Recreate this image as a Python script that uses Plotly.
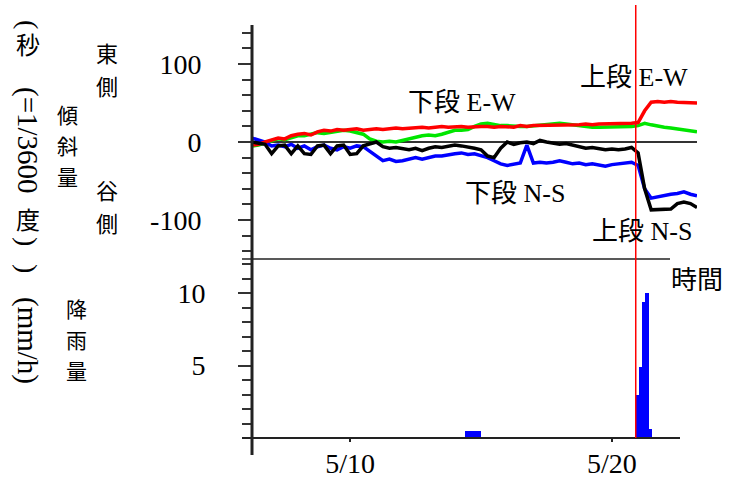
import plotly.graph_objects as go
import pandas as pd

# ---- data ----
times = pd.date_range("2009-05-06 06:00", periods=69, freq="6h")

upper_ew = [-4, -3, 0, 3, 5, 4, 8, 10, 11, 9, 13, 15, 14, 16, 15, 16, 17, 15, 16, 17,
            16, 17, 18, 17, 18, 18, 19, 18, 19, 20, 19, 20, 20, 19, 20, 20, 20, 19, 20, 20,
            19, 21, 20, 21, 21, 21, 22, 21, 22, 22, 22, 23, 22, 23, 23, 23, 24, 23, 24, 25,
            40, 51, 52, 51, 52, 51, 51, 50, 50]
lower_ew = [-5, -4, -1, 2, 4, 3, 6, 8, 8, 10, 12, 11, 12, 14, 15, 14, 12, 10, 4, 1,
            0, 1, 0, 2, 4, 7, 8, 9, 8, 10, 13, 15, 15, 16, 20, 23, 24, 22, 21, 21,
            20, 20, 20, 21, 22, 23, 24, 24, 23, 22, 20, 20, 19, 19, 19, 20, 20, 19, 20, 21,
            24, 22, 20, 19, 18, 17, 16, 15, 13]
lower_ns = [5, 3, 0, -5, -4, -6, -3, -8, -5, -10, -6, -4, -8, -10, -6, -8, -5, -6, -12, -18,
            -24, -22, -25, -24, -22, -20, -22, -20, -18, -18, -16, -15, -14, -16, -15, -17, -20, -24, -28, -30,
            -29, -27, -4, -27, -26, -27, -26, -24, -26, -28, -27, -29, -28, -30, -31, -29, -28, -27, -26, -30,
            -60, -72, -70, -68, -67, -66, -64, -67, -69]
upper_ns = [0, -2, -3, -15, -5, -4, -15, -5, -15, -16, -5, -4, -15, -5, -4, -16, -15, -5, -3, 0,
            -6, -8, -7, -9, -10, -8, -11, -8, -6, -7, -5, -4, -5, -6, -8, -10, -18, -20, -8, 0,
            -3, -1, 0, -2, 2, 0, -1, -3, -2, -4, -6, -8, -7, -8, -10, -9, -10, -9, -7, -14,
            -60, -87, -87, -86, -86, -79, -77, -79, -84]

rain_times = ["2009-05-14 10:30", "2009-05-14 13:30", "2009-05-14 16:30", "2009-05-14 19:30",
              "2009-05-14 22:30", "2009-05-20 23:15", "2009-05-21 02:15", "2009-05-21 05:15",
              "2009-05-21 08:15", "2009-05-21 11:15"]
rain_vals = [0.5, 0.5, 0.5, 0.5, 0.5, 3.0, 4.9, 9.4, 10.0, 0.6]

x_tick_vals = ["2009-05-10", "2009-05-20"]
x_tick_text = ["5/10", "5/20"]
tilt_tick_vals = [-100, 0, 100]
tilt_tick_text = ["-100", "0", "100"]
rain_tick_vals = [5, 10]
rain_tick_text = ["5", "10"]
event_time = "2009-05-20 21:50"

# ---- figure ----
L, R, T, B = 252, 33, 25, 44
W, H = 730, 482
PW, PH = W - L - R, H - T - B


def P(px, py):
    return (px - L) / PW, (H - B - py) / PH


split = P(0, 259)[1]
serif = "Liberation Serif"
cjk = "Noto Sans CJK JP"
mixed = "Liberation Serif, Noto Sans CJK JP"

fig = go.Figure()
for vals, col in [(lower_ew, "#00e600"), (lower_ns, "#0000ff"), (upper_ew, "#ff0000"), (upper_ns, "#000000")]:
    fig.add_trace(go.Scatter(x=times, y=vals, mode="lines", line=dict(color=col, width=3.5),
                             xaxis="x", yaxis="y", hoverinfo="skip"))

fig.add_trace(go.Bar(x=rain_times, y=rain_vals, width=3 * 3600 * 1000, marker=dict(color="#0000ff", line=dict(width=0)),
                     xaxis="x", yaxis="y2", hoverinfo="skip"))

tickfont = dict(family=serif, size=28, color="black")
fig.update_layout(
    width=W, height=H, margin=dict(l=L, r=R, t=T, b=B, autoexpand=False),
    paper_bgcolor="white", plot_bgcolor="white", showlegend=False, bargap=0,
    xaxis=dict(range=["2009-05-06 06:00", "2009-05-23 06:00"], anchor="y2", showline=False, automargin=False,
               showgrid=False, zeroline=False, tickmode="array", tickvals=x_tick_vals, ticktext=x_tick_text,
               ticks="outside", ticklen=3, tickwidth=2, tickcolor="#222", ticklabelstandoff=-3,
               tickfont=dict(family=serif, size=28, color="black")),
    yaxis=dict(domain=[split, 1], range=[-150, 150], anchor="x", showgrid=False, showline=False, automargin=False,
               zeroline=True, zerolinecolor="#333", zerolinewidth=1.5,
               tickmode="array", tickvals=tilt_tick_vals, ticktext=tilt_tick_text,
               ticks="outside", ticklen=13, tickwidth=2, tickcolor="#333",
               minor=dict(tickmode="linear", tick0=0, dtick=20, ticks="outside", ticklen=9, tickwidth=2, tickcolor="#333"),
               tickfont=tickfont, ticklabelstandoff=31),
    yaxis2=dict(domain=[0, split], range=[0, 12.35], anchor="x", showgrid=False, showline=False, zeroline=False,
                automargin=False,
                tickmode="array", tickvals=rain_tick_vals, ticktext=rain_tick_text,
                ticks="outside", ticklen=13, tickwidth=2, tickcolor="#333",
                minor=dict(tickmode="linear", tick0=0, dtick=1, ticks="outside", ticklen=9, tickwidth=2, tickcolor="#333"),
                tickfont=tickfont, ticklabelstandoff=27),
)

shapes = []
# left axis line (extends below the x axis)
shapes.append(dict(type="line", xref="paper", yref="paper", x0=0, x1=0, y0=P(0, 455)[1], y1=1,
                   line=dict(color="#222", width=3)))
# separator between panels
shapes.append(dict(type="line", xref="paper", yref="paper", x0=P(242, 0)[0], x1=P(670, 0)[0], y0=split, y1=split,
                   line=dict(color="#222", width=1.5)))
# bottom x axis line
shapes.append(dict(type="line", xref="paper", yref="paper", x0=P(242, 0)[0], x1=P(680, 0)[0], y0=0, y1=0,
                   line=dict(color="#222", width=2)))
# red event line
shapes.append(dict(type="line", xref="x", yref="paper", x0=event_time, x1=event_time, y0=0, y1=P(0, 5)[1],
                   line=dict(color="#ff0000", width=1.5)))
fig.update_layout(shapes=shapes)

ann = []


def add(text, px, py, size=25, family=cjk, angle=0):
    x, y = P(px, py)
    ann.append(dict(text=text, x=x, y=y, xref="paper", yref="paper", xanchor="center", yanchor="middle",
                    showarrow=False, textangle=angle, font=dict(family=family, size=size, color="black")))


# series labels
add("下段 E-W", 462, 103, 26, mixed)
add("上段 E-W", 634, 77, 26, mixed)
add("下段 N-S", 515, 193, 26, mixed)
add("上段 N-S", 642, 231, 26, mixed)
add("時間", 697, 277, 26, cjk)

# column 1: (秒(=1/3600度)) (mm/h)
add("(", 28, 24, 28, serif, 90)
add("秒", 28, 43, 24, cjk)
add("(=1/3600", 28, 140, 29, serif, 90)
add("度", 28, 218, 24, cjk)
add(")", 28, 241, 28, serif, 90)
add(")", 28, 268, 28, serif, 90)
add("(mm/h)", 28, 340, 29, serif, 90)

# column 2 (vertical text, one glyph per line)
for ch, yy in zip("傾斜量", [114, 145, 176]):
    add(ch, 67, yy, 21, cjk)
for ch, yy in zip("降雨量", [308, 339, 370]):
    add(ch, 76, yy, 21, cjk)

# column 3
for ch, yy in zip("東側", [52, 85]):
    add(ch, 107, yy, 22, cjk)
for ch, yy in zip("谷側", [189, 222]):
    add(ch, 107, yy, 22, cjk)

fig.update_layout(annotations=ann)
fig.write_html("out.html", config={"displayModeBar": False},
               post_script="document.body.style.margin='0px';")
